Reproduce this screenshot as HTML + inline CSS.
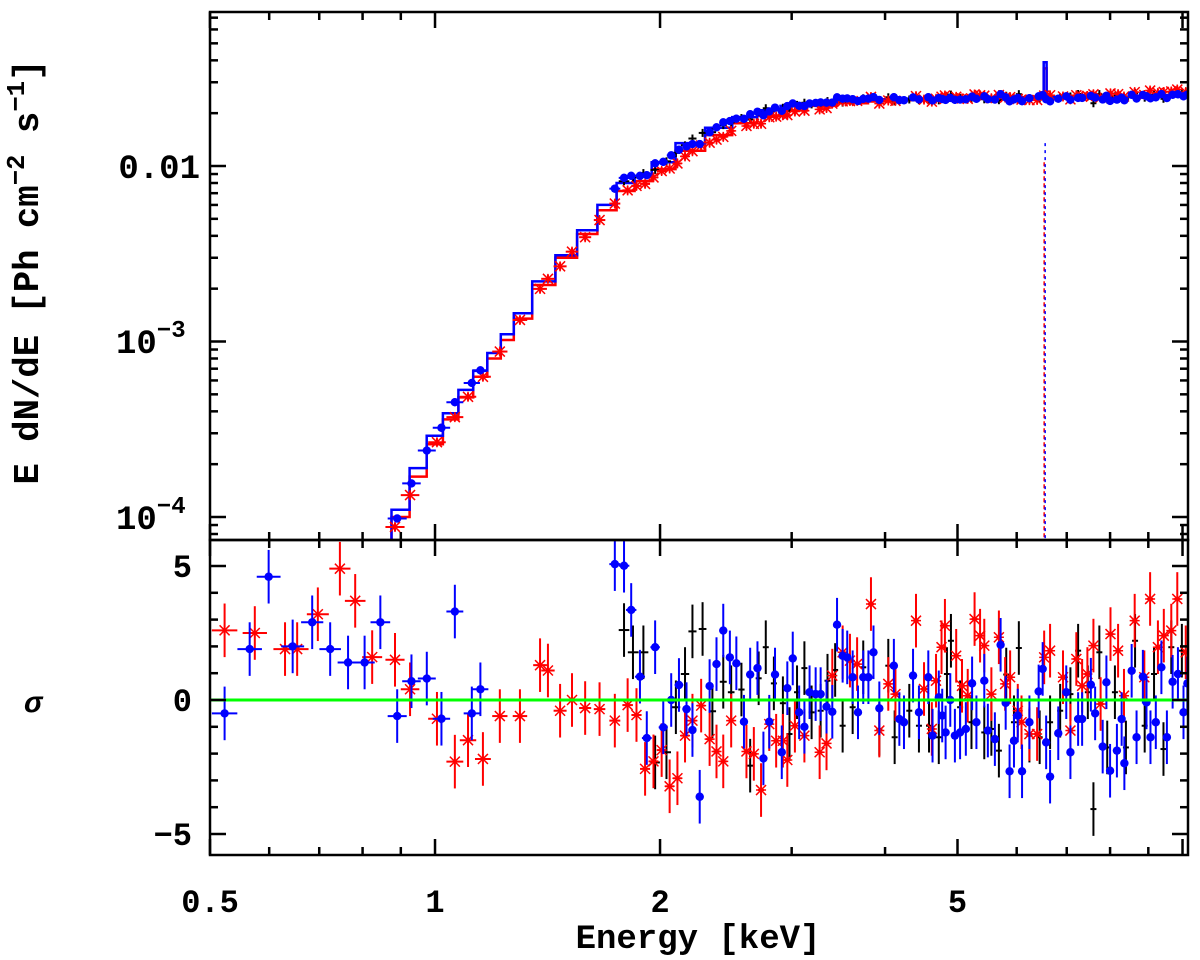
<!DOCTYPE html>
<html><head><meta charset="utf-8"><title>Spectrum and residuals</title>
<style>
html,body{margin:0;padding:0;background:#fff;}
svg{display:block;}
text{font-family:"Liberation Mono","DejaVu Sans Mono",monospace;font-weight:bold;fill:#000;}
</style></head>
<body>
<svg id="chart" width="1200" height="960" viewBox="0 0 1200 960" xmlns="http://www.w3.org/2000/svg">
<defs><clipPath id="clipTop"><rect x="210" y="12" width="978" height="528"/></clipPath>
<clipPath id="clipBot"><rect x="210" y="540" width="978" height="315"/></clipPath></defs>
<g id="topData" clip-path="url(#clipTop)"></g>
<g id="botData" clip-path="url(#clipBot)"></g>
<g id="axes"></g>
<text x="38" y="272" font-size="36" text-anchor="middle" textLength="425" lengthAdjust="spacingAndGlyphs" transform="rotate(-90 38 272)">E dN/dE [Ph cm<tspan dy="-14" font-size="26">−2</tspan><tspan dy="14"> s</tspan><tspan dy="-14" font-size="26">−1</tspan><tspan dy="14">]</tspan></text>
<text x="33" y="712" font-size="30" font-style="italic" text-anchor="middle" font-family="Liberation Serif, serif">σ</text>
<text x="698" y="948" font-size="34" text-anchor="middle">Energy [keV]</text>
</svg>
<script>
// ---- model (keV, flux) ----
const modelE = [0.85,0.9,0.95,1.0,1.05,1.1,1.15,1.2,1.25,1.3,1.4,1.5,1.6,1.7,1.8,1.9,2.0,2.2,2.4,2.6,2.8,3.0,3.3,3.6,4.0,4.5,5.0,5.5,6.0,6.45,6.55,6.65,7,8,9,10.2];
const modelBlue = [6.5e-5,1.1e-4,1.9e-4,2.9e-4,3.9e-4,5.3e-4,6.8e-4,8.6e-4,1.1e-3,1.45e-3,2.2e-3,3.1e-3,4.3e-3,6.0e-3,8.0e-3,8.8e-3,1.05e-2,1.35e-2,1.65e-2,1.9e-2,2.08e-2,2.2e-2,2.3e-2,2.36e-2,2.4e-2,2.42e-2,2.45e-2,2.46e-2,2.47e-2,2.48e-2,3.9e-2,2.48e-2,2.48e-2,2.48e-2,2.5e-2,2.52e-2];
const modelRed = [6e-5,1.0e-4,1.7e-4,2.6e-4,3.6e-4,4.8e-4,6.3e-4,8.0e-4,1.02e-3,1.35e-3,2.1e-3,3.0e-3,4.1e-3,5.6e-3,7.2e-3,8.2e-3,9.6e-3,1.22e-2,1.5e-2,1.75e-2,1.93e-2,2.07e-2,2.2e-2,2.28e-2,2.33e-2,2.37e-2,2.4e-2,2.42e-2,2.43e-2,2.44e-2,3.6e-2,2.44e-2,2.45e-2,2.47e-2,2.5e-2,2.55e-2];
const lineE = [6.55];
const lineNormBlue = [0.0135];
const lineNormRed = [0.0105];
// ---- residuals (keV, sigma) ----
const redE = [0.523,0.574,0.63,0.654,0.697,0.746,0.782,0.824,0.884,0.926,1.006,1.063,1.107,1.159,1.221,1.299,1.382,1.416,1.47,1.525,1.588,1.66,1.74,1.81,1.86,1.91,1.96,2.01,2.06,2.11,2.16,2.21,2.27,2.33,2.38,2.43,2.49,2.61,2.67,2.73,2.80,2.86,2.92,2.96,3.03,3.12,3.27,3.34,3.40,3.51,3.59,3.67,3.83,3.93,4.04,4.13,4.40,4.51,4.62,4.68,4.76,4.81,4.98,5.07,5.16,5.27,5.36,5.43,5.55,5.68,5.79,5.88,6.02,6.09,6.24,6.39,6.53,6.65,6.92,7.08,7.21,7.34,7.46,7.6,7.77,8.01,8.2,8.35,8.63,8.89,9.05,9.27,9.44,9.66,9.84,10.1];
const redS = [2.6,2.5,1.9,1.9,3.2,4.9,3.7,1.6,1.5,0.4,-0.7,-2.3,-1.5,-2.2,-0.6,-0.6,1.3,1.1,-0.4,0,-0.3,-0.34,-0.77,-0.19,-0.56,-2.57,-2.29,-1.87,-3.22,-2.92,-1.33,-0.77,-0.21,-1.46,-1.92,-2.29,-0.77,-1.92,-2.01,-3.36,-0.9,-1.52,-1.52,-2.24,-0.96,-1.33,-1.95,-1.62,0.91,1.78,1.47,1.34,3.58,-1.14,0.6,0.22,2.96,0.41,-1.08,0.72,1.97,2.77,1.65,0.53,0.16,3.02,2.4,2.03,0.22,2.34,0.6,0.85,-0.4,-0.83,-1.27,-1.27,1.59,1.84,0.85,-1.14,1.53,0.53,0.97,2.03,-0.15,2.46,1.84,0.16,2.96,0.85,3.77,1.97,2.4,2.59,3.77,1.78];
const blueE = [0.523,0.565,0.599,0.645,0.685,0.724,0.765,0.805,0.845,0.89,0.93,0.975,1.02,1.063,1.12,1.15,1.74,1.79,1.83,1.88,1.92,1.97,2.02,2.07,2.12,2.17,2.21,2.26,2.33,2.38,2.43,2.48,2.53,2.59,2.64,2.70,2.75,2.80,2.85,2.91,2.96,3.01,3.07,3.12,3.17,3.23,3.28,3.34,3.40,3.45,3.51,3.56,3.62,3.68,3.74,3.80,3.86,3.93,4.11,4.18,4.24,4.36,4.44,4.57,4.63,4.72,4.77,4.82,4.89,4.96,5.04,5.13,5.23,5.30,5.43,5.49,5.61,5.71,5.80,5.87,5.95,6.02,6.10,6.24,6.42,6.50,6.57,6.65,6.82,6.99,7.08,7.25,7.34,7.54,7.64,7.82,7.91,8.0,8.17,8.29,8.36,8.55,8.68,8.85,8.95,9.06,9.21,9.37,9.53,9.70,9.86,10.03,10.15];
const blueS = [-0.5,1.9,4.6,2.0,2.9,1.9,1.4,1.4,2.9,-0.6,0.7,0.8,-0.7,3.3,-0.5,0.4,5.07,5.01,3.36,0.87,-1.42,1.97,-1.02,0,0.56,-0.34,-1.12,-3.61,0.52,1.34,2.59,1.59,1.37,-0.81,0.95,1.19,-2.18,-0.81,0.95,-1.95,0.44,1.55,-0.46,-1.0,0.29,0.22,0.22,-0.25,-0.44,2.81,1.65,1.59,0.85,-0.46,0.85,0.85,1.78,-0.31,1.28,-0.71,-0.83,0.91,-0.46,0.85,-1.33,0.1,-0.58,-1.21,0,-1.33,-1.21,-1.08,0.62,-0.83,0.72,-1.14,-1.46,2.06,-0.11,-2.66,-1.52,-0.58,-2.66,-0.83,0.32,1.16,-1.58,-2.86,-1.24,0.29,-1.95,-0.71,-0.71,0.57,-0.5,-1.74,0.66,-2.64,-1.89,-0.71,-2.36,1.09,-1.39,0.87,-0.09,-1.39,-0.83,1.22,-1.39,0.68,0.97,-0.46,0.62];
const blackE = [1.79,1.84,1.90,1.97,2.04,2.10,2.16,2.21,2.28,2.35,2.43,2.49,2.57,2.64,2.71,2.77,2.84,2.92,2.98,3.05,3.12,3.19,3.28,3.35,3.43,3.51,3.62,3.74,3.93,4.04,4.12,4.31,4.44,4.58,4.72,4.84,4.90,5.04,5.22,5.43,5.55,5.68,5.81,5.95,6.04,6.24,6.44,6.65,6.86,7.08,7.25,7.47,7.6,7.74,7.93,8.12,8.40,8.64,8.90,9.16,9.43,9.66,9.98];
const blackS = [2.61,1.78,1.78,-2.33,-1.95,-0.27,0.97,2.56,2.65,-0.42,0.68,0.29,0.39,-2.45,0.81,1.97,0.62,-0.12,-1.27,0.29,1.19,-0.46,-0.4,0.72,1.12,-0.96,-0.27,1.22,-1.08,1.28,-1.39,-0.4,-0.96,-0.96,-1.39,0.97,2.21,-0.27,-0.83,-1.21,-1.08,-1.89,0.95,-0.83,1.94,-1.33,-1.39,-0.83,-0.4,0.22,1.84,0.29,-4.07,1.78,-1.77,0.29,-1.77,2.21,-0.96,0.97,-1.83,1.97,1.84];
const xTickLabels = ["0.5","1","2","5"];
const xTickValues = [0.5,1,2,5];

// ---- axis functions ----
const X0=210,X1=1188,PX_DEC=747.5;
const xs = e => X0 + PX_DEC*Math.log10(e/0.5);
const yTop = f => 166 - 175.5*Math.log10(f/0.01);
const yBot = s => 700 - 26.8*s;
const NS="http://www.w3.org/2000/svg";
const LINE_E = lineE[0];
function mk(parent,tag,attrs){const el=document.createElementNS(NS,tag);for(const k in attrs)el.setAttribute(k,attrs[k]);parent.appendChild(el);return el;}
function interp(arrE,arrF,e){
  const E=[],F=[];
  for(let i=0;i<arrE.length;i++){if(arrE[i]!==LINE_E){E.push(arrE[i]);F.push(arrF[i]);}}
  if(e<=E[0])return F[0];
  let i=0;while(i<E.length-2&&E[i+1]<e)i++;
  const t=(Math.log(e)-Math.log(E[i]))/(Math.log(E[i+1])-Math.log(E[i]));
  return Math.exp(Math.log(F[i])+t*(Math.log(F[i+1])-Math.log(F[i])));
}
const topG=document.getElementById('topData'), botG=document.getElementById('botData'), axG=document.getElementById('axes');

function drawModel(E,F,color,name){
  let d='';
  for(let i=0;i<E.length;i++){
    let lo = i===0?E[0]*0.975:Math.sqrt(E[i-1]*E[i]);
    let hi = i===E.length-1?E[i]:Math.sqrt(E[i]*E[i+1]);
    if(E[i]===LINE_E){lo=LINE_E-0.03;hi=LINE_E+0.03;}
    if(i>0&&E[i-1]===LINE_E){lo=LINE_E+0.03;}
    if(i<E.length-1&&E[i+1]===LINE_E){hi=LINE_E-0.03;}
    const y=yTop(F[i]).toFixed(1);
    d += (i===0?'M':'L')+xs(lo).toFixed(1)+' '+y+' L'+xs(hi).toFixed(1)+' '+y+' ';
  }
  const p=mk(topG,'path',{d:d,fill:'none',stroke:color,'stroke-width':2.5});
  
  
}
drawModel(modelE,modelRed,'#ff0000','model-red');
drawModel(modelE,modelBlue,'#0000ff','model-blue');

lineE.forEach((e,i)=>{
  const lr=mk(topG,'line',{x1:xs(e)-1,x2:xs(e)-1,y1:yTop(lineNormRed[i]),y2:540,stroke:'#ff0000','stroke-width':1.5,'stroke-dasharray':'4 3'});
  
  
  const lb=mk(topG,'line',{x1:xs(e),x2:xs(e),y1:yTop(lineNormBlue[i]),y2:540,stroke:'#0000ff','stroke-width':1.5,'stroke-dasharray':'3 4'});
  
  
});

function hw(e){const x=xs(e);return Math.max(3,13*(1-(x-210)/700));}
function marker(g,kind,x,y){
  if(kind==='dot'){mk(g,'circle',{cx:x,cy:y,r:4.2,stroke:'none'});}
  else if(kind==='star'){
    const r=5;
    mk(g,'path',{d:`M${x-r} ${y-r}L${x+r} ${y+r}M${x-r} ${y+r}L${x+r} ${y-r}M${x-r} ${y}L${x+r} ${y}M${x} ${y-r}L${x} ${y+r}`,'stroke-width':1.5});
  }
}
function drawSeries(E,S,color,kind,model,prefix){
  for(let i=0;i<E.length;i++){
    const e=E[i], s=S[i], x=xs(e), h=hw(e);
    const g=mk(botG,'g',{stroke:color,'stroke-width':2,fill:color});
    
    
    const y=yBot(s);
    mk(g,'line',{x1:x,x2:x,y1:yBot(s+1),y2:yBot(s-1)});
    mk(g,'line',{x1:x-h,x2:x+h,y1:y,y2:y});
    marker(g,kind,x,y);
    const f=interp(modelE,model,e)*(1+0.02*s);
    const yt=yTop(f);
    const g2=mk(topG,'g',{stroke:color,'stroke-width':2,fill:color});
    
    
    mk(g2,'line',{x1:x-h,x2:x+h,y1:yt,y2:yt});
    mk(g2,'line',{x1:x,x2:x,y1:yt-4,y2:yt+4});
    marker(g2,kind,x,yt);
  }
}
drawSeries(blackE,blackS,'#000000','cross',modelBlue,'black');
drawSeries(redE,redS,'#ff0000','star',modelRed,'red');
drawSeries(blueE,blueS,'#0000ff','dot',modelBlue,'blue');

const zl=mk(botG,'line',{x1:210,x2:1188,y1:yBot(0),y2:yBot(0),stroke:'#00ff00','stroke-width':3});



[[12,540,'spectrum-frame'],[540,855,'residual-frame']].forEach(([a,b,n])=>{
  const r=mk(axG,'rect',{x:210,y:a,width:978,height:b-a,fill:'none',stroke:'#000','stroke-width':2.5});
  
  
});
const xMajor=[0.5,1,2,5,10];
const xMinor=[0.6,0.7,0.8,0.9,3,4,6,7,8,9];
[[12,540],[540,855]].forEach(([a,b])=>{
  xMajor.forEach(v=>{const x=xs(v);if(x>1188)return;mk(axG,'line',{x1:x,x2:x,y1:a,y2:a+16,stroke:'#000','stroke-width':2.5});mk(axG,'line',{x1:x,x2:x,y1:b,y2:b-16,stroke:'#000','stroke-width':2.5});});
  xMinor.forEach(v=>{const x=xs(v);mk(axG,'line',{x1:x,x2:x,y1:a,y2:a+8,stroke:'#000','stroke-width':2.5});mk(axG,'line',{x1:x,x2:x,y1:b,y2:b-8,stroke:'#000','stroke-width':2.5});});
});
xTickValues.forEach((v,i)=>{
  const t=mk(axG,'text',{x:xs(v),y:912,'font-size':32,'text-anchor':'middle'});
  t.textContent=xTickLabels[i];
  
  
});
for(let dec=-5;dec<=-1;dec++){
  for(let m=1;m<=9;m++){
    const f=m*Math.pow(10,dec), y=yTop(f);
    if(y<12||y>540)continue;
    const L=m===1?16:8;
    mk(axG,'line',{x1:210,x2:210+L,y1:y,y2:y,stroke:'#000','stroke-width':2.5});
    mk(axG,'line',{x1:1188,x2:1188-L,y1:y,y2:y,stroke:'#000','stroke-width':2.5});
  }
}
const yl1=mk(axG,'text',{x:200,y:178,'font-size':34,'text-anchor':'end'});
yl1.textContent='0.01';


[[341,'−3'],[517,'−4']].forEach(([y,e])=>{
  const t=mk(axG,'text',{x:116,y:y+12,'font-size':34});
  t.innerHTML='10<tspan dy="-16" font-size="24">'+e+'</tspan>';
  
  
});
for(let s=-5;s<=5;s++){
  const y=yBot(s),L=s%5===0?16:8;
  mk(axG,'line',{x1:210,x2:210+L,y1:y,y2:y,stroke:'#000','stroke-width':2.5});
  mk(axG,'line',{x1:1188,x2:1188-L,y1:y,y2:y,stroke:'#000','stroke-width':2.5});
}
[[5,'5'],[0,'0'],[-5,'−5']].forEach(([s,l])=>{
  const t=mk(axG,'text',{x:192,y:yBot(s)+11,'font-size':32,'text-anchor':'end'});
  t.textContent=l;
  
  
});
</script>
</body></html>
